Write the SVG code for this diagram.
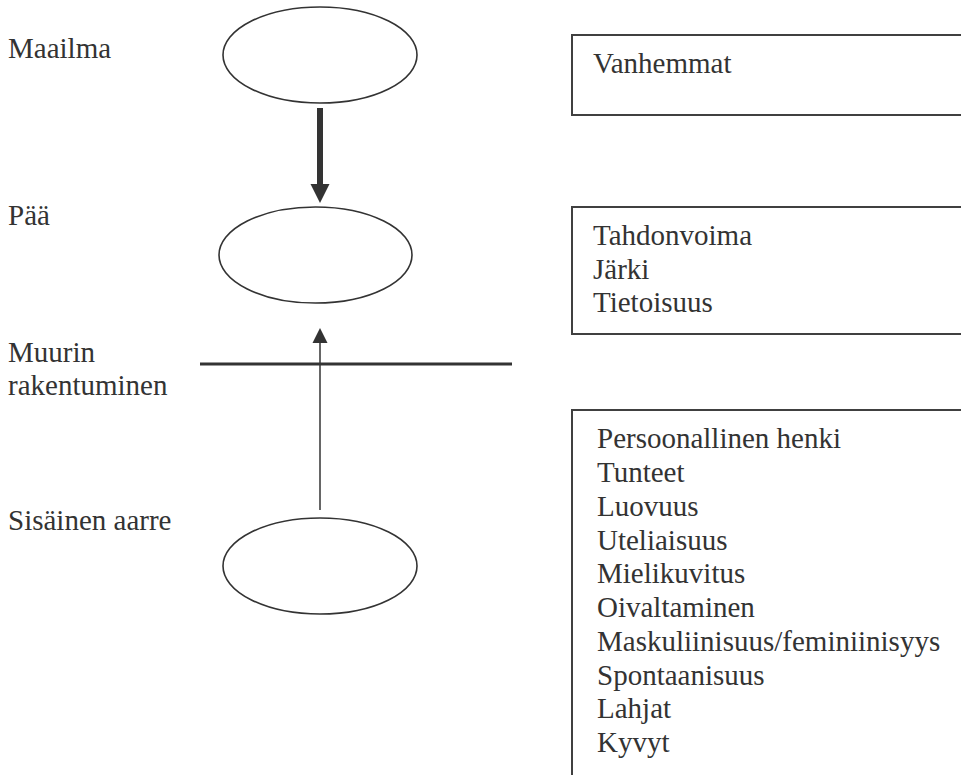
<svg xmlns="http://www.w3.org/2000/svg" width="961" height="775" viewBox="0 0 961 775">
<style>
text{font-family:"Liberation Serif","Times New Roman",serif;font-size:29px;fill:#333}
.node{fill:#fff;stroke:#333;stroke-width:1.6}
.box{fill:#fff;stroke:#404040;stroke-width:2}
</style>
<rect width="961" height="775" fill="#fff"/>
<g id="labels">
<text x="8" y="58">Maailma</text>
<text x="8" y="225">Pää</text>
<text x="8" y="362">Muurin</text>
<text x="8" y="395">rakentuminen</text>
<text x="8" y="530">Sisäinen aarre</text>
</g>
<g id="maailma"><ellipse class="node" cx="320" cy="55" rx="97" ry="48"/></g>
<g id="paa"><ellipse class="node" cx="315.5" cy="255" rx="96.5" ry="48"/></g>
<g id="aarre"><ellipse class="node" cx="320" cy="566" rx="97" ry="48"/></g>
<g id="vanhemmat">
<rect class="box" x="572" y="35" width="420" height="80"/>
<text x="593" y="73">Vanhemmat</text>
</g>
<g id="paa-box">
<rect class="box" x="572" y="207" width="420" height="127"/>
<text x="593" y="245">Tahdonvoima</text>
<text x="593" y="279">Järki</text>
<text x="593" y="312">Tietoisuus</text>
</g>
<g id="aarre-box">
<rect class="box" x="572" y="410" width="420" height="400"/>
<text x="597" y="448">Persoonallinen henki</text>
<text x="597" y="482">Tunteet</text>
<text x="597" y="516">Luovuus</text>
<text x="597" y="550">Uteliaisuus</text>
<text x="597" y="583">Mielikuvitus</text>
<text x="597" y="617">Oivaltaminen</text>
<text x="597" y="651">Maskuliinisuus/feminiinisyys</text>
<text x="597" y="685">Spontaanisuus</text>
<text x="597" y="718">Lahjat</text>
<text x="597" y="752">Kyvyt</text>
</g>
<g id="connectors">
<rect x="317" y="108" width="6" height="77" fill="#333"/>
<polygon points="310.5,184 329.5,184 320,203" fill="#333"/>
<line x1="320" y1="510" x2="320" y2="342" stroke="#333" stroke-width="1.5"/>
<polygon points="312.5,343 327.5,343 320,328" fill="#333"/>
<line x1="200" y1="364" x2="512" y2="364" stroke="#333" stroke-width="3"/>
</g>
</svg>
